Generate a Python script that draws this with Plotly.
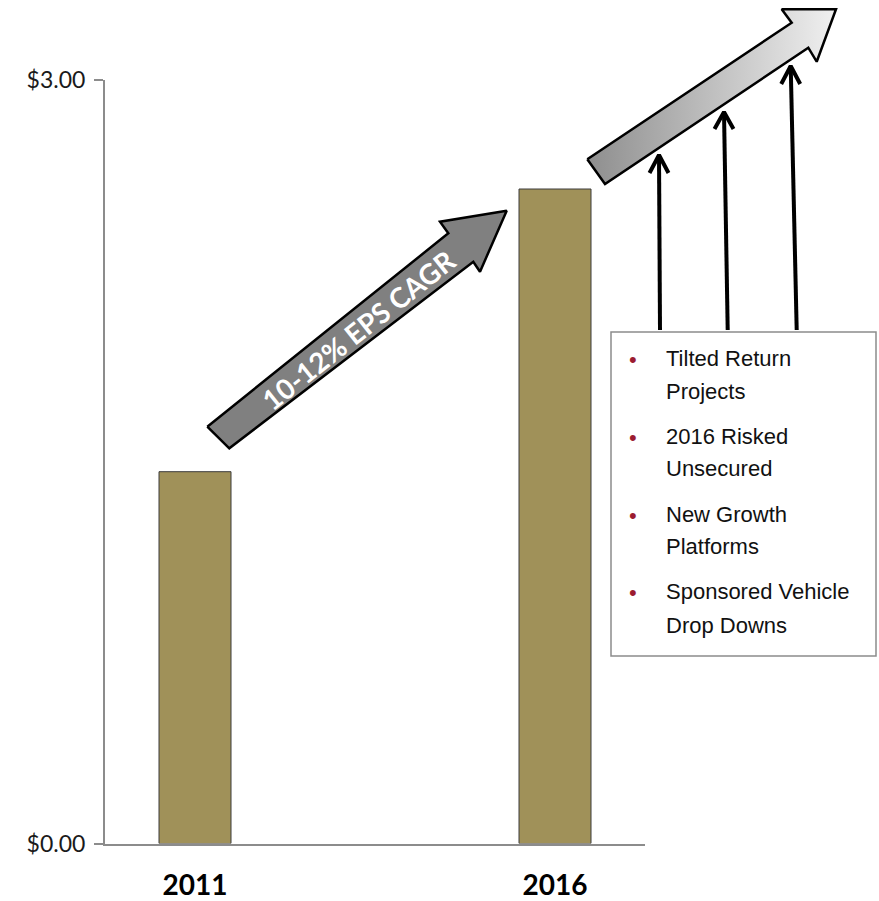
import plotly.graph_objects as go

# ---- data ----
years = ["2011", "2016"]
eps = [1.46, 2.57]
y_tickvals = [0, 3]
y_ticktext = ["$0.00", "$3.00"]
cagr_label = "10-12% EPS CAGR"
drivers = [
    ["Tilted Return", "Projects"],
    ["2016 Risked", "Unsecured"],
    ["New Growth", "Platforms"],
    ["Sponsored Vehicle", "Drop Downs"],
]

W, H = 879, 901
# plot area in pixels
L, R, T, B = 105, 645, 79.5, 843.5

fig = go.Figure()

fig.add_trace(go.Bar(
    x=years, y=eps, width=0.2,
    marker=dict(color="#A09159", line=dict(color="#3c3c3c", width=1)),
    showlegend=False, hoverinfo="skip",
))

def px(points):
    xs = [p[0] for p in points]
    ys = [p[1] for p in points]
    return xs, ys

# dark CAGR arrow
dark_arrow = [(207.3, 426.7), (448.3, 233.3), (440, 221.7), (506.7, 210.7),
              (480, 271.7), (473.3, 261.7), (229.3, 448.3), (207.3, 426.7)]
xs, ys = px(dark_arrow)
fig.add_trace(go.Scatter(x=xs, y=ys, xaxis="x2", yaxis="y2", mode="lines",
                         fill="toself", fillcolor="#808080",
                         line=dict(color="black", width=2.5),
                         showlegend=False, hoverinfo="skip"))

# gradient arrow
grad_arrow = [(587.3, 159.3), (791.7, 22.7), (781.7, 9.3), (836, 9.3),
              (816.7, 61.7), (808.3, 47.7), (605, 184), (587.3, 159.3)]
xs, ys = px(grad_arrow)
fig.add_trace(go.Scatter(x=xs, y=ys, xaxis="x2", yaxis="y2", mode="lines",
                         fill="toself",
                         fillgradient=dict(type="horizontal",
                                           colorscale=[[0, "#8e8e8e"], [1, "#f0f0f0"]]),
                         line=dict(color="black", width=2.5),
                         showlegend=False, hoverinfo="skip"))

# three black support arrows
supports = [((660, 330), (659, 155), 173), ((727.7, 330), (724, 112), 129), ((796.7, 330), (790.7, 66), 84)]
for (bx, by), (tx, ty), wy in supports:
    fig.add_trace(go.Scatter(x=[bx, tx], y=[by, ty], xaxis="x2", yaxis="y2", mode="lines",
                             line=dict(color="black", width=4),
                             showlegend=False, hoverinfo="skip"))
    fig.add_trace(go.Scatter(x=[tx - 9.5, tx, tx + 9.5], y=[wy, ty, wy], xaxis="x2", yaxis="y2",
                             mode="lines", line=dict(color="black", width=4),
                             showlegend=False, hoverinfo="skip"))

shapes = [
    dict(type="rect", xref="x2", yref="y2", x0=611, y0=332, x1=876, y1=656,
         line=dict(color="#8c8c8c", width=1.5), fillcolor="white", layer="above"),
]

annotations = [
    dict(x=358, y=330, xref="x2", yref="y2", text="<b>%s</b>" % cagr_label,
         textangle=-38.5, showarrow=False,
         font=dict(family="Lato", size=28, color="white"),
         xanchor="center", yanchor="middle"),
]

line_y = [[358.5, 391.7], [436.7, 468], [514, 546.7], [591.7, 625]]
for item, ys_ in zip(drivers, line_y):
    annotations.append(dict(x=633, y=ys_[0] + 1, xref="x2", yref="y2", text="•",
                            showarrow=False, xanchor="center", yanchor="middle",
                            font=dict(family="Liberation Sans", size=22, color="#9B1C31")))
    for txt, yy in zip(item, ys_):
        annotations.append(dict(x=664, y=yy, xref="x2", yref="y2", text=txt,
                                showarrow=False, xanchor="left", yanchor="middle",
                                font=dict(family="Liberation Sans", size=22,
                                          color="#111111")))

fig.update_layout(
    width=W, height=H,
    margin=dict(l=0, r=0, t=0, b=0, pad=0),
    paper_bgcolor="white", plot_bgcolor="rgba(0,0,0,0)",
    showlegend=False,
    xaxis=dict(domain=[L / W, R / W], type="category", range=[-0.25, 1.25],
               showline=True, linecolor="#8c8c8c", linewidth=2,
               showgrid=False, zeroline=False, ticks="",
               tickfont=dict(family="Lato", size=28, color="black", weight="bold"),
               ticklabelstandoff=16, automargin=False, fixedrange=True),
    yaxis=dict(domain=[(H - B) / H, (H - T) / H], range=[0, 3],
               tickvals=y_tickvals, ticktext=y_ticktext,
               showline=True, linecolor="#8c8c8c", linewidth=2,
               ticks="outside", ticklen=9, tickwidth=2, tickcolor="#8c8c8c",
               showgrid=False, zeroline=False,
               tickfont=dict(family="Lato", size=23, color="#1a1a1a"),
               ticklabelstandoff=4, automargin=False, fixedrange=True),
    xaxis2=dict(domain=[0, 1], range=[0, W], anchor="y2", visible=False, fixedrange=True),
    yaxis2=dict(domain=[0, 1], range=[H, 0], anchor="x2", visible=False, fixedrange=True),
    shapes=shapes,
    annotations=annotations,
)

fig.write_html("out.html",
               config={"displayModeBar": False, "staticPlot": True},
               post_script="document.body.style.margin='0';document.body.style.overflow='hidden';")
